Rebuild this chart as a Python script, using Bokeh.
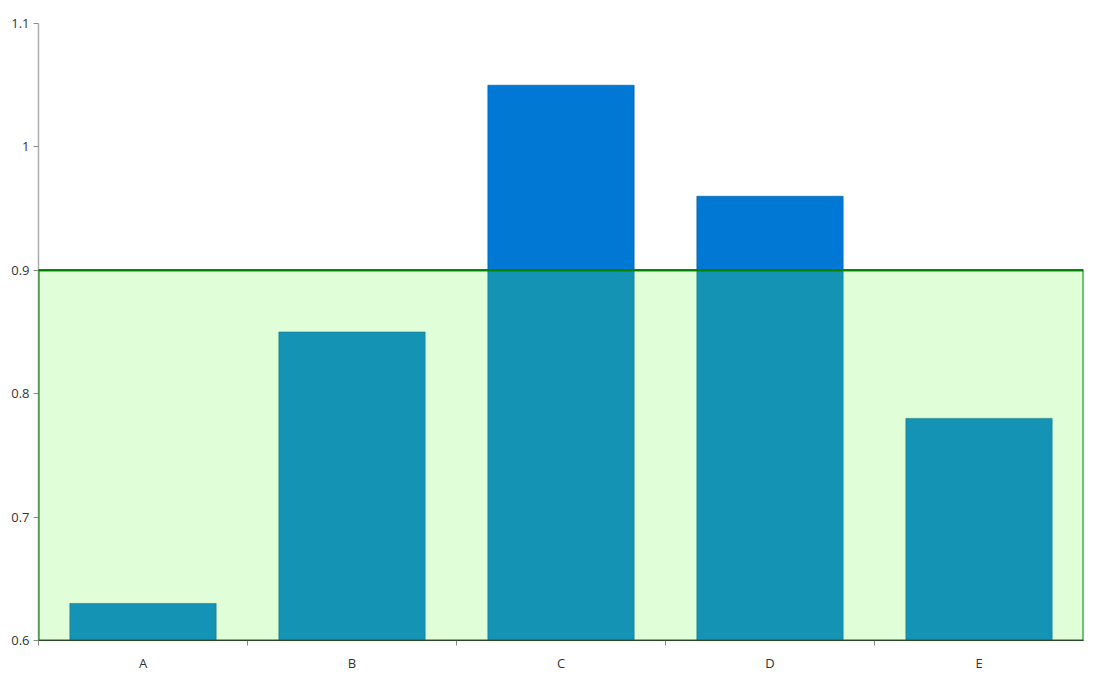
from bokeh.plotting import figure
from bokeh.models import (Range1d, FixedTicker, CustomJSTickFormatter, BoxAnnotation,
                          Span, ColumnDataSource)
from bokeh.embed import file_html
from bokeh.resources import INLINE

categories = ["A", "B", "C", "D", "E"]
values = [0.63, 0.85, 1.05, 0.96, 0.78]
y_ticks = [0.6, 0.7, 0.8, 0.9, 1.0, 1.1]
threshold = 0.9
y_min, y_max = 0.6, 1.1

x_pos = [i + 0.5 for i in range(len(categories))]
boundaries = list(range(len(categories)))

src = ColumnDataSource(dict(x=x_pos, top=values, cat=categories))

p = figure(frame_width=1045, frame_height=617, output_backend="svg", toolbar_location=None,
           x_range=Range1d(0, len(categories)), y_range=Range1d(y_min, y_max),
           min_border_left=38, min_border_right=10, min_border_top=23, min_border_bottom=33)
p.outline_line_color = None
p.grid.visible = False
p.background_fill_color = "white"
p.border_fill_color = "white"

p.vbar(x="x", top="top", bottom=y_min, width=0.7, source=src,
       fill_color="#0078d4", line_color="#005a9e", line_alpha=0.6, line_width=1)

band = BoxAnnotation(bottom=y_min, top=threshold, fill_color="#64ff3c", fill_alpha=0.2,
                     line_color="#008000", line_alpha=1.0, line_width=2)
p.add_layout(band)
p.add_layout(Span(location=threshold, dimension="width", line_color="#008000", line_width=2))
p.add_layout(Span(location=y_min, dimension="width", line_color="#333333", line_width=1.2,
                  level="overlay"))

font = "Open Sans"
# y axis
ya = p.yaxis[0]
ya.ticker = FixedTicker(ticks=y_ticks)
ya.formatter = CustomJSTickFormatter(code="return tick.toFixed(1).replace(/\\.0$/, '');")
ya.axis_line_color = "#aaaaaa"
ya.axis_line_width = 1.5
ya.major_tick_line_color = "#888888"
ya.major_tick_out = 5
ya.major_tick_in = 0
ya.minor_tick_line_color = None
ya.major_label_standoff = 4
ya.major_label_text_font = font
ya.major_label_text_font_size = "13px"
ya.major_label_text_color = "#333333"

# x axis
xa = p.xaxis[0]
xa.ticker = FixedTicker(ticks=x_pos, minor_ticks=boundaries)
xa.formatter = CustomJSTickFormatter(args=dict(cats=categories),
                                     code="return cats[Math.floor(tick)];")
xa.axis_line_color = "#333333"
xa.major_tick_out = 0
xa.major_tick_in = 0
xa.minor_tick_out = 5
xa.minor_tick_in = 0
xa.minor_tick_line_color = "#888888"
xa.major_label_standoff = 8
xa.major_label_text_font = font
xa.major_label_text_font_size = "13px"
xa.major_label_text_color = "#333333"

open("out.html", "w").write(file_html(p, INLINE))
